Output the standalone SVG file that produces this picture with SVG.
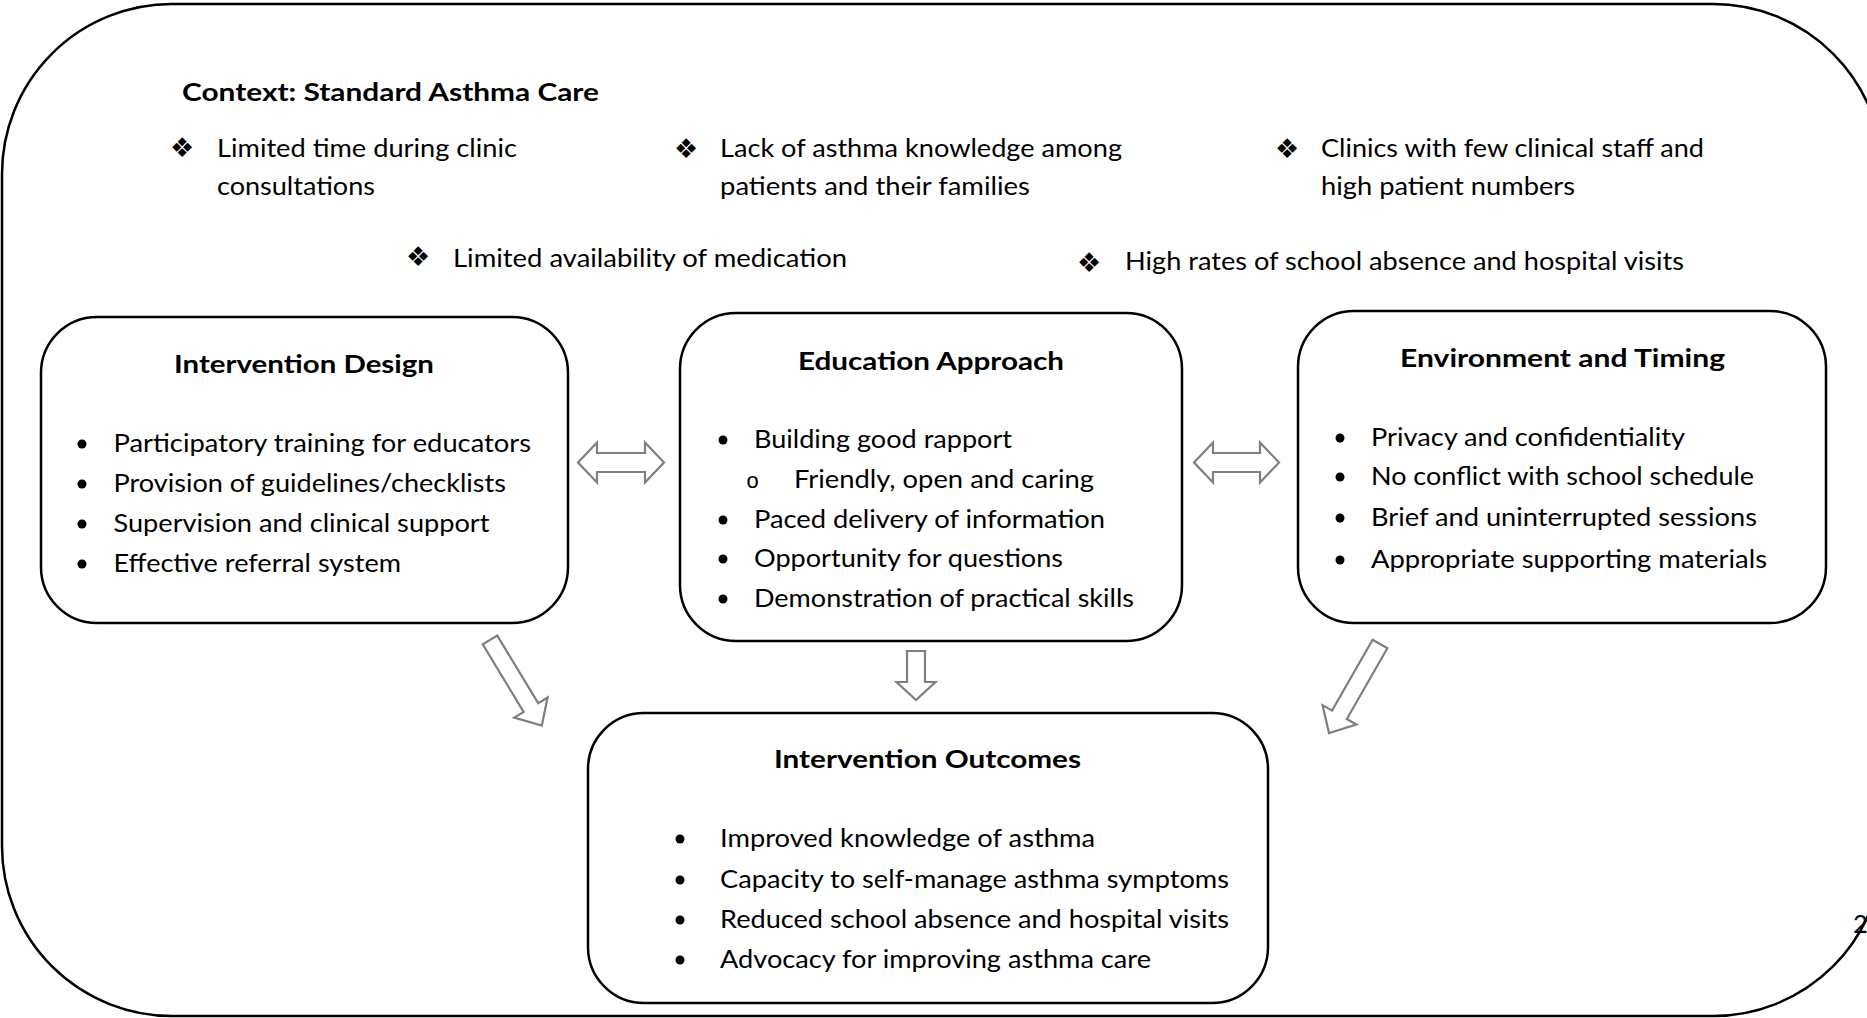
<svg xmlns="http://www.w3.org/2000/svg" width="1867" height="1018" viewBox="0 0 1867 1018">
  <style>
    .frame { fill: none; stroke: #000; stroke-width: 2.5; }
    .box { fill: #fff; stroke: #000; stroke-width: 2.5; }
    .arrow { fill: #fff; stroke: #7f7f7f; stroke-width: 2.2; stroke-linejoin: miter; }
    .t { font-family: Lato, "Liberation Sans", sans-serif; font-size: 25.5px; fill: #000; }
    .h { font-weight: 700; }
    .dia { font-family: "DejaVu Sans", sans-serif; font-size: 27px; fill: #000; text-anchor: middle; }
    .sub { font-family: "Liberation Mono", monospace; font-size: 22px; fill: #000; }
    .dot { fill: #000; }
  </style>

  <rect width="1867" height="1018" fill="#fff"/>

  <!-- outer context frame -->
  <rect class="frame" x="2" y="4" width="1881" height="1012" rx="170" ry="170"/>

  <!-- context: standard asthma care -->
  <g id="context">
    <text class="t h" x="182" y="101" font-size="26" textLength="417" lengthAdjust="spacingAndGlyphs">Context: Standard Asthma Care</text>

    <text class="dia" x="182" y="157">❖</text>
    <text class="t" x="217" y="157" textLength="300" lengthAdjust="spacingAndGlyphs">Limited time during clinic</text>
    <text class="t" x="217" y="195" textLength="158" lengthAdjust="spacingAndGlyphs">consultations</text>

    <text class="dia" x="686" y="158">❖</text>
    <text class="t" x="720" y="157" textLength="402" lengthAdjust="spacingAndGlyphs">Lack of asthma knowledge among</text>
    <text class="t" x="720" y="195" textLength="310" lengthAdjust="spacingAndGlyphs">patients and their families</text>

    <text class="dia" x="1287" y="158">❖</text>
    <text class="t" x="1321" y="157" textLength="383" lengthAdjust="spacingAndGlyphs">Clinics with few clinical staff and</text>
    <text class="t" x="1321" y="195" textLength="254" lengthAdjust="spacingAndGlyphs">high patient numbers</text>

    <text class="dia" x="418" y="266">❖</text>
    <text class="t" x="453" y="267" textLength="394" lengthAdjust="spacingAndGlyphs">Limited availability of medication</text>

    <text class="dia" x="1089" y="272">❖</text>
    <text class="t" x="1125" y="270" textLength="559" lengthAdjust="spacingAndGlyphs">High rates of school absence and hospital visits</text>
  </g>

  <!-- connectors -->
  <g id="connectors">
    <polygon class="arrow" points="578,462.5 597,442.5 597,453 645,453 645,442.5 664,462.5 645,482.5 645,472 597,472 597,482.5"/>
    <polygon class="arrow" points="1194,462.5 1213,442.5 1213,453 1260,453 1260,442.5 1279,462.5 1260,482.5 1260,472 1213,472 1213,482.5"/>
    <polygon class="arrow" points="907,651 925,651 925,682 935.5,682 916,700 896.5,682 907,682"/>
    <polygon class="arrow" transform="translate(490,640) rotate(58.8)" points="0,-8.5 79,-8.5 79,-19.5 100,0 79,19.5 79,8.5 0,8.5"/>
    <polygon class="arrow" transform="translate(1380,644) rotate(119.8)" points="0,-8.5 81.6,-8.5 81.6,-19.5 102.6,0 81.6,19.5 81.6,8.5 0,8.5"/>
  </g>

  <!-- intervention design -->
  <g id="intervention-design">
    <rect class="box" x="41" y="317" width="527" height="306" rx="56" ry="56"/>
    <text class="t h" x="174" y="373" textLength="260" lengthAdjust="spacingAndGlyphs">Intervention Design</text>
    <circle class="dot" cx="82" cy="444" r="4.5"/>
    <text class="t" x="113.5" y="452" textLength="417.5" lengthAdjust="spacingAndGlyphs">Participatory training for educators</text>
    <circle class="dot" cx="82" cy="484" r="4.5"/>
    <text class="t" x="113.5" y="492" textLength="392.5" lengthAdjust="spacingAndGlyphs">Provision of guidelines/checklists</text>
    <circle class="dot" cx="82" cy="524" r="4.5"/>
    <text class="t" x="113.5" y="532" textLength="376" lengthAdjust="spacingAndGlyphs">Supervision and clinical support</text>
    <circle class="dot" cx="82" cy="564" r="4.5"/>
    <text class="t" x="113.5" y="572" textLength="287.5" lengthAdjust="spacingAndGlyphs">Effective referral system</text>
  </g>

  <!-- education approach -->
  <g id="education-approach">
    <rect class="box" x="680" y="313" width="502" height="328" rx="56" ry="56"/>
    <text class="t h" x="798" y="370" textLength="266" lengthAdjust="spacingAndGlyphs">Education Approach</text>
    <circle class="dot" cx="723" cy="440" r="4.5"/>
    <text class="t" x="754" y="448" textLength="258" lengthAdjust="spacingAndGlyphs">Building good rapport</text>
    <text class="sub" x="746" y="488">o</text>
    <text class="t" x="794" y="488" textLength="300" lengthAdjust="spacingAndGlyphs">Friendly, open and caring</text>
    <circle class="dot" cx="723" cy="520" r="4.5"/>
    <text class="t" x="754" y="528" textLength="351" lengthAdjust="spacingAndGlyphs">Paced delivery of information</text>
    <circle class="dot" cx="723" cy="559" r="4.5"/>
    <text class="t" x="754" y="567" textLength="309" lengthAdjust="spacingAndGlyphs">Opportunity for questions</text>
    <circle class="dot" cx="723" cy="599" r="4.5"/>
    <text class="t" x="754" y="607" textLength="380" lengthAdjust="spacingAndGlyphs">Demonstration of practical skills</text>
  </g>

  <!-- environment and timing -->
  <g id="environment-timing">
    <rect class="box" x="1298" y="311" width="528" height="312" rx="56" ry="56"/>
    <text class="t h" x="1400" y="367" textLength="325" lengthAdjust="spacingAndGlyphs">Environment and Timing</text>
    <circle class="dot" cx="1340" cy="438" r="4.5"/>
    <text class="t" x="1371" y="446" textLength="314" lengthAdjust="spacingAndGlyphs">Privacy and confidentiality</text>
    <circle class="dot" cx="1340" cy="477" r="4.5"/>
    <text class="t" x="1371" y="485" textLength="383" lengthAdjust="spacingAndGlyphs">No conflict with school schedule</text>
    <circle class="dot" cx="1340" cy="518" r="4.5"/>
    <text class="t" x="1371" y="526" textLength="386" lengthAdjust="spacingAndGlyphs">Brief and uninterrupted sessions</text>
    <circle class="dot" cx="1340" cy="560" r="4.5"/>
    <text class="t" x="1371" y="568" textLength="396" lengthAdjust="spacingAndGlyphs">Appropriate supporting materials</text>
  </g>

  <!-- intervention outcomes -->
  <g id="intervention-outcomes">
    <rect class="box" x="588" y="713" width="680" height="290" rx="56" ry="56"/>
    <text class="t h" x="774" y="768" textLength="307" lengthAdjust="spacingAndGlyphs">Intervention Outcomes</text>
    <circle class="dot" cx="680" cy="839" r="4.5"/>
    <text class="t" x="720" y="847" textLength="375" lengthAdjust="spacingAndGlyphs">Improved knowledge of asthma</text>
    <circle class="dot" cx="680" cy="880" r="4.5"/>
    <text class="t" x="720" y="888" textLength="509" lengthAdjust="spacingAndGlyphs">Capacity to self-manage asthma symptoms</text>
    <circle class="dot" cx="680" cy="920" r="4.5"/>
    <text class="t" x="720" y="928" textLength="509" lengthAdjust="spacingAndGlyphs">Reduced school absence and hospital visits</text>
    <circle class="dot" cx="680" cy="960" r="4.5"/>
    <text class="t" x="720" y="968" textLength="431" lengthAdjust="spacingAndGlyphs">Advocacy for improving asthma care</text>
  </g>

  <!-- page number at the right edge -->
  <text class="t" x="1853" y="933" font-size="30">2</text>
</svg>
